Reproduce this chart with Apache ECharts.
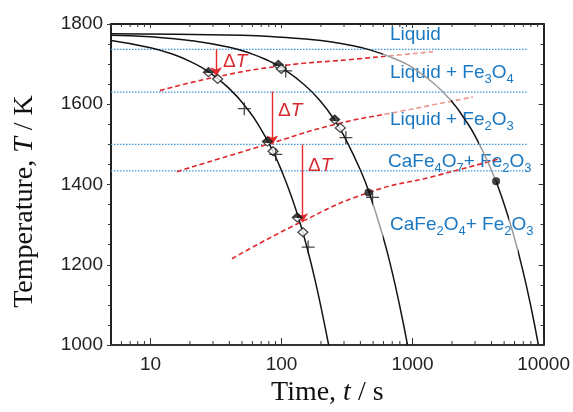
<!DOCTYPE html>
<html>
<head>
<meta charset="utf-8">
<script src="https://cdn.jsdelivr.net/npm/echarts@6.0.0/dist/echarts.min.js"></script>
<style>
  html, body { margin: 0; padding: 0; background: #fff; }
  #container { width: 573px; height: 412px; }
</style>
</head>
<body>
<div id="container"></div>
<script>
// tick values
var xLabelValues = [10, 100, 1000, 10000];
var xMinorTicks = [6, 7, 8, 9, 20, 30, 40, 50, 60, 70, 80, 90,
  200, 300, 400, 500, 600, 700, 800, 900,
  2000, 3000, 4000, 5000, 6000, 7000, 8000, 9000];

// cooling curves [t (s), T (K)]
var curveFast = [[5, 1759], [10, 1741], [15, 1724], [20, 1707], [28, 1680], [40, 1639], [55, 1588],
  [70, 1537], [85, 1486], [100, 1435], [120, 1367], [140, 1299], [160, 1231], [180, 1163],
  [200, 1095], [229, 1000]];
var curveMid = [[5, 1772], [10, 1768], [20, 1759], [40, 1742], [60, 1725], [80, 1708], [100, 1691],
  [150, 1648], [200, 1606], [258, 1557], [300, 1521], [400, 1436], [477, 1371], [600, 1266],
  [700, 1181], [800, 1096], [916, 1000]];
var curveSlow = [[5, 1776], [50, 1772], [100, 1767], [200, 1759], [300, 1750], [500, 1733],
  [800, 1708], [1000, 1691], [1500, 1648], [2000, 1606], [2500, 1563], [3000, 1521],
  [4000, 1436], [5000, 1351], [6000, 1266], [7000, 1181], [8000, 1096], [9130, 1000]];

// red dashed boundaries
var boundary1 = [[11.8, 1634], [31.7, 1668], [101, 1696], [325, 1711], [1437, 1731]];
var boundary2 = [[15.9, 1432], [85.2, 1504], [258, 1550], [826, 1583], [2890, 1618]];
var boundary3 = [[41.9, 1215], [140, 1306], [461, 1380], [1480, 1421], [4470, 1463]];

// equilibrium levels (blue dotted)
var levelTemps = [1737, 1630, 1500, 1434];
var levelRange = [5, 7550];

// ΔT arrows [t, T start, T end]
var arrows = [[31.7, 1737, 1670], [85.2, 1632, 1500], [144, 1500, 1306]];

// markers
var diamondsHalf = [[27.7, 1680], [78, 1507], [131.9, 1318], [94.6, 1698], [254.7, 1562]];
var diamondsOpen = [[32.6, 1663], [86.2, 1483], [145.6, 1281], [99.7, 1688], [281, 1541]];
var crosses = [[52, 1589], [90.4, 1475], [159.8, 1244], [107.7, 1683], [310, 1517], [495, 1368]];
var dots = [[461, 1380], [4341, 1408]];

var dom = document.getElementById("container");
var myChart = echarts.init(dom);

var black = "#141414";
var grey = "#9a9a9a";
var red = "#df262c";
var paleRed = "#e99a8c";
var blue = "#1a78c2";

var series = [];

levelTemps.forEach(function(T) {
  series.push({
    type: "line",
    data: [[levelRange[0], T], [levelRange[1], T]],
    symbol: "none",
    silent: true,
    z: 1,
    lineStyle: { color: "#3f98da", width: 1.2, type: [1.5, 1.5] }
  });
});

// first two boundaries get their colour from the visualMap (pale ends)
var redStart = series.length;
[boundary1, boundary2, boundary3].forEach(function(d, i) {
  var ls = { width: 1.6, type: [5, 3] };
  if (i === 2) ls.color = red;
  series.push({
    type: "line",
    data: d,
    symbol: "none",
    smooth: true,
    silent: true,
    z: 3,
    lineStyle: ls
  });
});

var curveStart = series.length;
[curveFast, curveMid, curveSlow].forEach(function(d, i) {
  var ls = { width: 1.5 };
  if (i === 0) ls.color = black;
  series.push({
    type: "line",
    data: d,
    symbol: "none",
    smooth: true,
    silent: true,
    z: 4,
    lineStyle: ls
  });
});

series.push({
  type: "lines",
  coordinateSystem: "cartesian2d",
  symbol: ["none", "arrow"],
  symbolSize: 9,
  silent: true,
  z: 5,
  lineStyle: { color: "#e8292c", width: 1.4, opacity: 1 },
  data: arrows.map(function(a) {
    return { coords: [[a[0], a[1]], [a[0], a[2]]] };
  })
});

series.push({
  type: "scatter",
  data: diamondsHalf,
  symbol: "diamond",
  symbolSize: [10, 9],
  z: 6,
  itemStyle: {
    color: {
      type: "linear", x: 0, y: 0, x2: 0, y2: 1,
      colorStops: [
        { offset: 0, color: "#1a1a1a" }, { offset: 0.6, color: "#1a1a1a" },
        { offset: 0.6, color: "#fff" }, { offset: 1, color: "#fff" }
      ]
    },
    borderColor: "#1a1a1a",
    borderWidth: 1.2
  }
});
series.push({
  type: "scatter",
  data: diamondsOpen,
  symbol: "diamond",
  symbolSize: [10, 9],
  z: 6,
  itemStyle: { color: "#fff", borderColor: "#1a1a1a", borderWidth: 1.3 }
});
series.push({
  type: "scatter",
  data: crosses,
  symbol: "path://M5,0L5,10M0,5L10,5",
  symbolSize: 13,
  z: 6,
  itemStyle: { color: "none", borderColor: "#1a1a1a", borderWidth: 1.3 }
});
series.push({
  type: "scatter",
  data: dots,
  symbol: "circle",
  symbolSize: 8,
  z: 6,
  itemStyle: { color: "#111" }
});

// minor log ticks on bottom and top frame
series.push({
  type: "custom",
  silent: true,
  clip: false,
  z: 7,
  data: xMinorTicks.map(function(v) { return [v, 1000]; }),
  renderItem: function(params, api) {
    var v = api.value(0);
    var b = api.coord([v, 1000]);
    var t = api.coord([v, 1800]);
    return {
      type: "group",
      children: [
        { type: "line", shape: { x1: b[0], y1: b[1], x2: b[0], y2: b[1] - 4 }, style: { stroke: "#333", lineWidth: 1 } },
        { type: "line", shape: { x1: t[0], y1: t[1], x2: t[0], y2: t[1] + 3 }, style: { stroke: "#333", lineWidth: 1 } }
      ]
    };
  }
});

function labelText(x, y, text) {
  return {
    type: "text",
    x: x,
    y: y,
    z: 1,
    style: {
      text: text,
      align: "left",
      verticalAlign: "top",
      rich: {
        m: { fontSize: 19, fontFamily: "Liberation Sans", fill: blue, lineHeight: 26 },
        s: { fontSize: 13, fontFamily: "Liberation Sans", fill: blue, lineHeight: 13, verticalAlign: "bottom" }
      }
    }
  };
}
function deltaText(x, y) {
  return {
    type: "text",
    x: x,
    y: y,
    z: 8,
    style: {
      text: "{m|\u0394}{i|T}",
      align: "left",
      verticalAlign: "middle",
      rich: {
        m: { fontSize: 19, fontFamily: "Liberation Sans", fill: "#d8282e" },
        i: { fontSize: 19, fontFamily: "Liberation Sans", fontStyle: "italic", fill: "#d8282e" }
      }
    }
  };
}

var axisFont = "Liberation Sans";
var titleFont = "Liberation Serif";

var option = {
  animation: false,
  backgroundColor: "#fff",
  grid: { left: 111, right: 27, top: 24, bottom: 65 },
  xAxis: [
    {
      type: "log",
      logBase: 10,
      min: 5,
      max: 10000,
      position: "bottom",
      axisLine: { lineStyle: { color: "#333", width: 2 } },
      axisTick: { inside: true, length: 7, lineStyle: { color: "#333", width: 1 } },
      splitLine: { show: false },
      axisLabel: {
        fontFamily: axisFont, fontSize: 19, color: "#222", margin: 10,
        showMinLabel: false,
        formatter: function(v) {
          var r = Math.round(v);
          return xLabelValues.indexOf(r) >= 0 ? String(r) : "";
        }
      },
      name: "Time, {i|t} / s",
      nameLocation: "middle",
      nameGap: 34,
      nameTextStyle: {
        fontFamily: titleFont, fontSize: 28, color: "#111",
        rich: { i: { fontFamily: titleFont, fontSize: 28, fontStyle: "italic", color: "#111" } }
      }
    },
    {
      type: "log",
      logBase: 10,
      min: 5,
      max: 10000,
      position: "top",
      axisLine: { lineStyle: { color: "#222", width: 2 } },
      axisTick: { inside: true, length: 4, lineStyle: { color: "#333" } },
      axisLabel: { show: false },
      splitLine: { show: false }
    }
  ],
  yAxis: [
    {
      type: "value",
      min: 1000,
      max: 1800,
      interval: 200,
      position: "left",
      axisLine: { show: true, lineStyle: { color: "#222", width: 2 } },
      axisTick: { show: true, inside: false, length: 4, lineStyle: { color: "#333" } },
      minorTick: { show: true, splitNumber: 4, length: 3, lineStyle: { color: "#333" } },
      splitLine: { show: false },
      axisLabel: {
        fontFamily: axisFont, fontSize: 19, color: "#222", margin: 8,
        formatter: function(v) { return String(v); }
      },
      name: "Temperature, {i|T} / K",
      nameLocation: "middle",
      nameGap: 72,
      nameTextStyle: {
        fontFamily: titleFont, fontSize: 28, color: "#111",
        padding: [0, 34, 0, 0],
        rich: { i: { fontFamily: titleFont, fontSize: 28, fontStyle: "italic", color: "#111" } }
      }
    },
    {
      type: "value",
      min: 1000,
      max: 1800,
      interval: 200,
      position: "right",
      axisLine: { show: true, lineStyle: { color: "#222", width: 2 } },
      axisTick: { show: true, inside: true, length: 5, lineStyle: { color: "#333" } },
      minorTick: { show: true, splitNumber: 4, length: 3, lineStyle: { color: "#333" } },
      splitLine: { show: false },
      axisLabel: { show: false }
    }
  ],
  visualMap: [
    {
      type: "piecewise", show: false, dimension: 0, seriesIndex: curveStart + 2,
      pieces: [
        { lt: 600, color: black }, { gte: 600, lt: 1950, color: grey },
        { gte: 1950, lt: 3240, color: black }, { gte: 3240, lt: 4340, color: grey },
        { gte: 4340, lt: 5400, color: black }, { gte: 5400, lt: 6340, color: grey },
        { gte: 6340, color: black }
      ]
    },
    {
      type: "piecewise", show: false, dimension: 0, seriesIndex: curveStart + 1,
      pieces: [
        { lt: 500, color: black }, { gte: 500, lt: 600, color: grey }, { gte: 600, color: black }
      ]
    },
    {
      type: "piecewise", show: false, dimension: 0, seriesIndex: [redStart, redStart + 1],
      pieces: [
        { lt: 620, color: red }, { gte: 620, lt: 5000, color: paleRed }, { gte: 5000, color: paleRed }
      ]
    }
  ],
  graphic: [
    labelText(390, 22, "{m|Liquid}"),
    labelText(390, 59.5, "{m|Liquid + Fe}{s|3}{m|O}{s|4}"),
    labelText(390, 107, "{m|Liquid + Fe}{s|2}{m|O}{s|3}"),
    labelText(388, 149, "{m|CaFe}{s|4}{m|O}{s|7}{m|+ Fe}{s|2}{m|O}{s|3}"),
    labelText(390, 211.5, "{m|CaFe}{s|2}{m|O}{s|4}{m|+ Fe}{s|2}{m|O}{s|3}"),
    deltaText(223, 61.5),
    deltaText(278, 110.5),
    deltaText(308, 165.5)
  ],
  series: series
};

if (option && typeof option === "object") {
  myChart.setOption(option, true);
}
</script>
</body>
</html>
